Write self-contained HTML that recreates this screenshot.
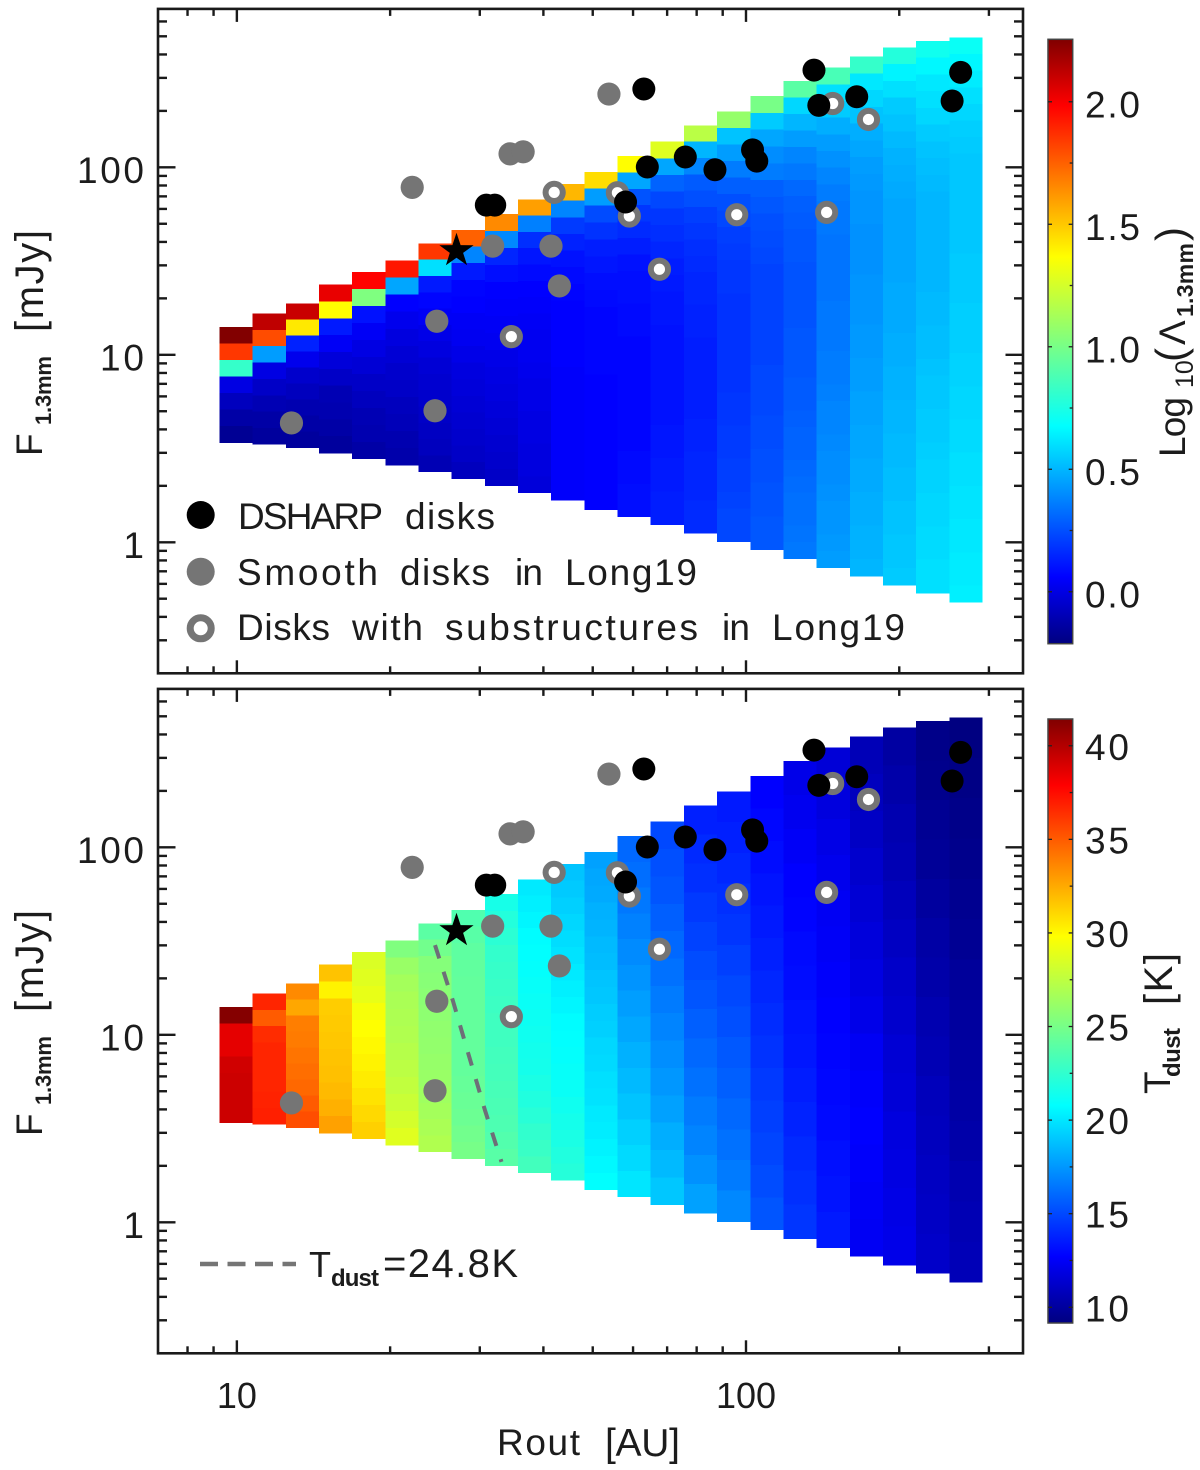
<!DOCTYPE html>
<html lang="en">
<head>
<meta charset="utf-8">
<title>Disk flux versus outer radius</title>
<style>
html,body{margin:0;padding:0;background:#fff;}
svg{display:block;}
text{font-family:"Liberation Sans",sans-serif;fill:#1c1c1c;}
.big{font-size:37px;}
.sub{font-size:22px;font-weight:bold;}
</style>
</head>
<body>
<svg id="chart" xmlns="http://www.w3.org/2000/svg" width="1200" height="1470" viewBox="0 0 1200 1470">
  <defs>
    <linearGradient id="jetGrad" x1="0" y1="1" x2="0" y2="0">
      <stop offset="0" stop-color="#000080"/>
      <stop offset="0.11" stop-color="#0000ff"/>
      <stop offset="0.36" stop-color="#00ffff"/>
      <stop offset="0.64" stop-color="#ffff00"/>
      <stop offset="0.89" stop-color="#ff0000"/>
      <stop offset="1" stop-color="#800000"/>
    </linearGradient>
  </defs>
  <rect x="0" y="0" width="1200" height="1470" fill="#fff"/>
  <g id="heatTop" shape-rendering="crispEdges"></g>
  <g id="heatBottom" shape-rendering="crispEdges"></g>
  <path id="contour" fill="none" stroke="#6e6e78" stroke-width="4" stroke-dasharray="14 14"/>
  <g id="pointsTop"></g>
  <g id="pointsBottom"></g>
  <g id="axes"></g>

  <!-- axis titles -->
  <g>
    <text class="big" transform="translate(42,456) rotate(-90)" textLength="24">F</text>
    <text class="sub" transform="translate(51,425) rotate(-90)" textLength="69">1.3mm</text>
    <text class="big" style="font-size:40px" transform="translate(43,332) rotate(-90)" textLength="102">[mJy]</text>
  </g>
  <g>
    <text class="big" transform="translate(42,1136) rotate(-90)" textLength="24">F</text>
    <text class="sub" transform="translate(51,1105) rotate(-90)" textLength="69">1.3mm</text>
    <text class="big" style="font-size:40px" transform="translate(43,1012) rotate(-90)" textLength="102">[mJy]</text>
  </g>
  <g>
    <text class="big" x="497" y="1455" textLength="83">Rout</text>
    <text class="big" style="font-size:39px" x="605" y="1456" textLength="75">[AU]</text>
  </g>

  <!-- legend top panel -->
  <g>
    <circle cx="200.7" cy="515" r="14" fill="#000"/>
    <circle cx="200.7" cy="571.7" r="14" fill="#757575"/>
    <circle cx="200.7" cy="628.3" r="10.5" fill="#fff" stroke="#757575" stroke-width="7"/>
    <g>
      <text class="big" x="238" y="529" textLength="145">DSHARP</text>
      <text class="big" x="405" y="529" textLength="90">disks</text>
    </g>
    <g>
      <text class="big" x="237" y="585" textLength="141">Smooth</text>
      <text class="big" x="400" y="585" textLength="90">disks</text>
      <text class="big" x="515" y="585" textLength="28">in</text>
      <text class="big" x="565" y="585" textLength="132">Long19</text>
    </g>
    <g>
      <text class="big" x="237" y="640" textLength="93">Disks</text>
      <text class="big" x="352" y="640" textLength="71">with</text>
      <text class="big" x="445" y="640" textLength="253">substructures</text>
      <text class="big" x="722" y="640" textLength="28">in</text>
      <text class="big" x="772" y="640" textLength="133">Long19</text>
    </g>
  </g>

  <!-- legend bottom panel -->
  <g>
    <line x1="200" y1="1264" x2="296" y2="1264" stroke="#757575" stroke-width="4.5" stroke-dasharray="18 9.5"/>
    <text class="big" x="309" y="1277" style="font-size:36px">T</text>
    <text class="sub" style="font-size:24px" x="331" y="1286" textLength="48">dust</text>
    <text class="big" x="383" y="1277" textLength="135" style="font-size:40px">=24.8K</text>
  </g>

  <!-- colorbars -->
  <g>
    <rect x="1048" y="39.3" width="24.7" height="604.4" fill="url(#jetGrad)" stroke="#444" stroke-width="1.5"/>
  </g>
  <g>
    <rect x="1048" y="719" width="24.7" height="604" fill="url(#jetGrad)" stroke="#444" stroke-width="1.5"/>
  </g>
  <g>
    <text class="big" transform="translate(1185,457) rotate(-90)" textLength="60">Log</text>
    <text style="font-size:25px" transform="translate(1193,388) rotate(-90)">10</text>
    <text class="big" style="font-size:42px" transform="translate(1185,362) rotate(-90)">(</text>
    <text class="big" transform="translate(1185,345) rotate(-90)" textLength="22">&#923;</text>
    <text class="sub" style="font-size:23px" transform="translate(1193,317) rotate(-90)" textLength="74">1.3mm</text>
    <text class="big" style="font-size:42px" transform="translate(1185,241) rotate(-90)">)</text>
  </g>
  <g>
    <text class="big" transform="translate(1170,1094) rotate(-90)" textLength="24">T</text>
    <text class="sub" style="font-size:24px" transform="translate(1180,1077) rotate(-90)" textLength="49">dust</text>
    <text class="big" style="font-size:40px" transform="translate(1172,1005) rotate(-90)" textLength="52">[K]</text>
  </g>
  <g id="cbarTicks"></g>
</svg>
<script>
// ---- data ----
const routAU = [9.96,11.57,13.45,15.62,18.15,21.09,24.5,28.47,33.08,38.43,44.66,51.89,60.29,70.05,81.39,94.57,109.9,127.7,148.3,172.4,200.3,232.7,270.4];
const fluxMax = [14.1,16.6,18.8,23.7,27.6,31.8,39.3,46.3,56.3,67.5,81.5,94.7,114.9,137,167.5,199,240,289,340,389,437,472,493];
const fluxMin = [3.40,3.33,3.20,2.99,2.79,2.58,2.38,2.18,2.00,1.84,1.68,1.49,1.37,1.24,1.12,1.01,0.91,0.818,0.732,0.661,0.592,0.535,0.479];

const lambdaGrid = [
[2.25,1.85,.82,0,-.08,-.13,-.17],
[2.12,1.8,.44,0,-.06,-.1,-.13,-.15],
[2.1,1.42,.14,.02,-.05,-.08,-.11,-.13,-.15],
[2.03,1.37,.12,.04,-.02,-.06,-.1,-.11,-.13,-.15],
[1.98,1.02,.1,.04,0,-.03,-.06,-.08,-.1,-.11,-.13],
[1.93,.46,.06,.02,-.01,-.03,-.05,-.06,-.08,-.09,-.11,-.12],
[1.85,.6,.12,.07,.04,.01,-.01,-.03,-.04,-.05,-.06,-.07,-.08,-.1],
[1.75,.38,.12,.07,.06,.04,.03,.01,-.01,-.02,-.03,-.04,-.05,-.06,-.08],
[1.65,.39,.15,.09,.06,.05,.04,.03,.01,0,-.01,-.02,-.03,-.04,-.05,-.06],
[1.6,.37,.17,.11,.08,.06,.05,.04,.03,.03,.02,.01,.01,0,0,-.01,-.01,-.02],
[1.54,.38,.2,.14,.1,.08,.07,.06,.06,.06,.06,.05,.05,.05,.05,.05,.05,.05,.05],
[1.45,.44,.24,.18,.13,.11,.09,.08,.07,.07,.07,.07,.06,.06,.06,.06,.06,.06,.06,.06],
[1.37,.46,.26,.19,.16,.13,.1,.09,.09,.08,.08,.07,.07,.07,.07,.07,.07,.07,.08,.08,.09,.09],
[1.28,.46,.3,.23,.19,.17,.15,.13,.12,.11,.11,.1,.1,.1,.1,.1,.1,.11,.11,.12,.12,.13,.13],
[1.18,.5,.38,.28,.25,.21,.19,.17,.16,.15,.15,.14,.14,.13,.13,.13,.13,.13,.14,.14,.15,.15,.15,.16,.16],
[1.08,.53,.44,.36,.29,.25,.23,.21,.2,.19,.19,.18,.18,.18,.18,.18,.18,.19,.19,.2,.2,.21,.21,.22,.23,.23],
[1,.55,.46,.4,.36,.29,.27,.25,.24,.23,.22,.22,.22,.22,.22,.22,.23,.23,.23,.24,.24,.25,.25,.26,.26,.27,.27],
[.92,.58,.5,.44,.38,.35,.31,.29,.28,.27,.27,.26,.26,.26,.26,.27,.27,.27,.28,.28,.29,.3,.3,.31,.32,.33,.33,.34,.35],
[.87,.6,.55,.48,.44,.41,.38,.36,.35,.35,.34,.34,.34,.34,.35,.35,.35,.36,.36,.37,.38,.38,.39,.4,.4,.41,.42,.42,.43,.44],
[.82,.62,.58,.53,.48,.46,.44,.43,.42,.42,.41,.41,.41,.42,.42,.42,.43,.43,.44,.44,.45,.45,.46,.46,.47,.47,.48,.48,.49,.49,.5],
[.77,.65,.6,.55,.53,.51,.49,.48,.47,.46,.46,.46,.46,.46,.47,.47,.47,.48,.48,.49,.49,.5,.5,.51,.51,.52,.52,.53,.53,.54,.54,.55],
[.72,.66,.62,.6,.58,.55,.53,.52,.51,.5,.5,.5,.5,.5,.5,.51,.51,.52,.52,.53,.54,.54,.55,.55,.56,.57,.57,.58,.58,.59,.59,.6,.6],
[.7,.66,.63,.6,.58,.56,.55,.54,.54,.54,.54,.54,.54,.55,.55,.55,.56,.56,.56,.57,.57,.58,.58,.59,.59,.6,.6,.61,.61,.62,.62,.63,.63,.64]
];

const tdustGrid = [
[41.3,38.6,38.6,39.2,39.3,39.3,39.3],
[36.7,35,36.5,36.7,36.7,36.7,36.8,36.9],
[33.5,32.6,33.9,34,34.2,34.4,34.6,35,35.4],
[31.7,30.2,31.4,31.5,31.6,31.7,31.8,32,32.3,32.8],
[28.5,28.7,29,29.5,29.8,30,30.2,30.4,30.7,31,31.3],
[25.3,26.2,26.6,26.8,26.9,27,27.2,27.4,27.6,27.9,28.3,28.7],
[24,24.8,25.5,25.6,25.7,25.8,25.9,26,26.1,26.2,26.4,26.6,26.8,27],
[23.6,23.9,24.1,24.2,24.3,24.3,24.3,24.3,24.3,24.3,24.4,24.5,24.6,24.8,25],
[21.6,22,22.3,22.6,22.7,22.8,22.9,23,23,23.1,23.2,23.3,23.4,23.5,23.7,23.9],
[20.1,20.3,20.5,20.7,20.8,20.9,21,21.1,21.2,21.3,21.4,21.5,21.7,21.9,22.2,22.5,22.8,23.1],
[18.9,19.1,19.3,19.5,19.7,19.9,20.1,20.3,20.5,20.7,20.8,20.9,21,21.1,21.3,21.5,21.7,21.9,22.1],
[17.8,18,18.1,18.3,18.4,18.6,18.7,18.9,19,19.2,19.3,19.5,19.6,19.8,19.9,20.1,20.2,20.4,20.6,20.8],
[16,16.2,16.5,16.8,17.1,17.4,17.7,18,18.3,18.6,18.9,19.3,19.6,20],
[15,15.2,15.4,15.7,16,16.3,16.6,16.9,17.2,17.5,17.8,18.2,18.6,19],
[13.7,14,14.2,14.5,14.8,15.1,15.4,15.7,16,16.3,16.6,16.9,17.3,17.8],
[13.5,13.7,13.9,14.2,14.4,14.7,15,15.2,15.5,15.7,16,16.3,16.6,17],
[12.7,12.9,13.1,13.3,13.5,13.7,13.9,14.1,14.3,14.5,14.7,14.9,15.1,15.4],
[12.1,12.3,12.5,12.7,12.8,13,13.1,13.3,13.4,13.6,13.8,14,14.2,14.4],
[11.6,11.8,12,12.2,12.4,12.5,12.6,12.7,12.8,12.9,13,13.2,13.3,13.5],
[10.7,10.9,11.1,11.3,11.5,11.7,11.9,12.1,12.4,12.6,12.7,12.6,12.5,12.4],
[10.1,10.3,10.5,10.6,10.8,11,11.2,11.3,11.5,11.6,11.8,11.9,12,12.1],
[9.4,9.5,9.7,9.8,10,10.2,10.3,10.5,10.6,10.8,10.9,11,11.1,11.2],
[9.2,9.3,9.4,9.5,9.6,9.7,9.9,10,10.1,10.2,10.3,10.5,10.6,10.7]
];

const dsharpR = [63,136,139,165,264,254,64,76,86.9,103,105,58,30.9,32.1];
const dsharpF = [261.6,330,214,238,321,226,100.4,113.5,97.1,124,108,65.3,62.9,62.9];
const smoothR = [53.8,22.1,34.4,36.5,31.8,41.4,43,24.7,24.5,12.8];
const smoothF = [246,78.2,118,121,38,38,23.3,15.1,5.03,4.33];
const substrR = [42,34.6,55.9,59,67.6,95.9,144,148,174];
const substrF = [73.5,12.5,73.2,55,28.6,55.9,57.5,219,180];
const starR = [27];
const starF = [35.9];
const contourR = [24.5,26.6,28.6,30.7,33.1];
const contourF = [30.1,15,7.64,3.97,2.1];

const xMajorTicks = [10,100];
const xMajorLabels = ['10','100'];
const xMinorTicks = [8,9,20,30,40,50,60,70,80,90,200,300];
const yMajorTicks = [1,10,100];
const yMajorLabels = ['1','10','100'];
const yLabelWidths = [18,44,67];
const yMinorTicks = [.2,.3,.4,.5,.6,.7,.8,.9,2,3,4,5,6,7,8,9,20,30,40,50,60,70,80,90,200,300,400,500,600];
const lambdaTicks = [0,.5,1,1.5,2];
const lambdaLabels = ['0.0','0.5','1.0','1.5','2.0'];
const lambdaMinor = [.25,.75,1.25,1.75];
const tdustTicks = [10,15,20,25,30,35,40];
const tdustLabels = ['10','15','20','25','30','35','40'];
const tdustMinor = [12.5,17.5,22.5,27.5,32.5,37.5];

// ---- scales ----
const NS = 'http://www.w3.org/2000/svg';
const PLOT_L = 158, PLOT_R = 1023, PLOT_H = 664.4;
const PANEL_TOPS = [8.9, 688.9];
const lambdaRange = [-0.212, 2.255];
const tdustRange = [9.16, 41.43];
const lg = Math.log10;
function xScale(r){ return PLOT_L + (lg(r) - lg(7)) / (lg(350) - lg(7)) * (PLOT_R - PLOT_L); }
function yScale(f, top){ return top + (lg(700) - lg(f)) / (lg(700) - lg(0.2)) * PLOT_H; }
function lambdaCbarY(v){ return 643.7 - (v - lambdaRange[0]) / (lambdaRange[1] - lambdaRange[0]) * 604.4; }
function tdustCbarY(v){ return 1323 - (v - tdustRange[0]) / (tdustRange[1] - tdustRange[0]) * 604; }
function jet(t){
  t = Math.max(0, Math.min(1, t));
  let r, g, b;
  if (t < .11) { r = 0; g = 0; b = 128 + 127 * t / .11; }
  else if (t < .36) { r = 0; g = 255 * (t - .11) / .25; b = 255; }
  else if (t < .64) { r = 255 * (t - .36) / .28; g = 255; b = 255 * (1 - (t - .36) / .28); }
  else if (t < .89) { r = 255; g = 255 * (1 - (t - .64) / .25); b = 0; }
  else { r = 255 - 127 * (t - .89) / .11; g = 0; b = 0; }
  return 'rgb(' + Math.round(r) + ',' + Math.round(g) + ',' + Math.round(b) + ')';
}
function make(tag, parent, attrs){
  const el = document.createElementNS(NS, tag);
  for (const k in attrs) el.setAttribute(k, attrs[k]);
  parent.appendChild(el);
  return el;
}
function columnEdges(i){
  const c = lg(routAU[i]);
  const left = i > 0 ? (c + lg(routAU[i - 1])) / 2 : c - (lg(routAU[1]) - c) / 2;
  const right = i < routAU.length - 1 ? (c + lg(routAU[i + 1])) / 2 : c + (c - lg(routAU[i - 1])) / 2;
  return [xScale(Math.pow(10, left)), xScale(Math.pow(10, right))];
}

// ---- heatmaps ----
function drawHeat(group, grid, range, top){
  routAU.forEach(function(r, i){
    const e = columnEdges(i);
    const y0 = yScale(fluxMax[i], top);
    const y1 = yScale(fluxMin[i], top);
    const vals = grid[i];
    const h = (y1 - y0) / vals.length;
    vals.forEach(function(v, j){
      const cell = make('rect', group, {
        x: e[0].toFixed(2), y: (y0 + j * h).toFixed(2),
        width: (e[1] - e[0]).toFixed(2), height: (h + 0.3).toFixed(2),
        fill: jet((v - range[0]) / (range[1] - range[0]))
      });
      
      
    });
  });
}
drawHeat(document.getElementById('heatTop'), lambdaGrid, lambdaRange, PANEL_TOPS[0]);
drawHeat(document.getElementById('heatBottom'), tdustGrid, tdustRange, PANEL_TOPS[1]);

// ---- contour ----
document.getElementById('contour').setAttribute('d', contourR.map(function(r, i){
  return (i ? 'L' : 'M') + xScale(r).toFixed(1) + ' ' + yScale(contourF[i], PANEL_TOPS[1]).toFixed(1);
}).join(' '));

// ---- points ----
function drawPoints(group, top){
  substrR.forEach(function(r, i){
    const ring = make('circle', group, {cx: xScale(r), cy: yScale(substrF[i], top), r: 8.6, fill: '#fff', stroke: '#757575', 'stroke-width': 6});
    
    
  });
  smoothR.forEach(function(r, i){
    const dot = make('circle', group, {cx: xScale(r), cy: yScale(smoothF[i], top), r: 11.6, fill: '#757575'});
    
    
  });
  dsharpR.forEach(function(r, i){
    const dot = make('circle', group, {cx: xScale(r), cy: yScale(dsharpF[i], top), r: 11.5, fill: '#000'});
    
    
  });
  starR.forEach(function(r, i){
    const cx = xScale(r), cy = yScale(starF[i], top);
    const pts = [];
    for (let k = 0; k < 10; k++) {
      const rad = k % 2 ? 7 : 18;
      const a = -Math.PI / 2 + k * Math.PI / 5;
      pts.push((cx + rad * Math.cos(a)).toFixed(1) + ',' + (cy + rad * Math.sin(a)).toFixed(1));
    }
    const star = make('polygon', group, {points: pts.join(' '), fill: '#000'});
    
    
  });
}
drawPoints(document.getElementById('pointsTop'), PANEL_TOPS[0]);
drawPoints(document.getElementById('pointsBottom'), PANEL_TOPS[1]);

// ---- axes ----
const axes = document.getElementById('axes');
function tickLine(x1, y1, x2, y2){
  const t = make('line', axes, {x1: x1, y1: y1, x2: x2, y2: y2, stroke: '#1a1a1a', 'stroke-width': 2.4});
  
  
}
PANEL_TOPS.forEach(function(top){
  const bottom = top + PLOT_H;
  const frame = make('rect', axes, {x: PLOT_L, y: top, width: PLOT_R - PLOT_L, height: PLOT_H, fill: 'none', stroke: '#1a1a1a', 'stroke-width': 2.6});
  
  
  xMajorTicks.forEach(function(v){ const x = xScale(v); tickLine(x, bottom, x, bottom - 13); tickLine(x, top, x, top + 13); });
  xMinorTicks.forEach(function(v){ const x = xScale(v); tickLine(x, bottom, x, bottom - 7); tickLine(x, top, x, top + 7); });
  yMajorTicks.forEach(function(v, i){
    const y = yScale(v, top);
    tickLine(PLOT_L, y, PLOT_L + 17.5, y);
    tickLine(PLOT_R, y, PLOT_R - 17.5, y);
    const lab = make('text', axes, {x: 144, y: y + 15.7, 'text-anchor': 'end', 'class': 'big', textLength: yLabelWidths[i]});
    lab.textContent = yMajorLabels[i];
    
    
  });
  yMinorTicks.forEach(function(v){
    const y = yScale(v, top);
    tickLine(PLOT_L, y, PLOT_L + 9, y);
    tickLine(PLOT_R, y, PLOT_R - 9, y);
  });
});
xMajorTicks.forEach(function(v, i){
  const lab = make('text', axes, {x: xScale(v), y: 1408, 'text-anchor': 'middle', 'class': 'big'});
  lab.style.fontSize = '36px';
  lab.textContent = xMajorLabels[i];
  
  
});

// ---- colorbar ticks ----
const cbarGroup = document.getElementById('cbarTicks');
function cbarTick(y, len, both){
  const a = make('line', cbarGroup, {x1: 1072.7, y1: y, x2: 1072.7 - len, y2: y, stroke: '#222', 'stroke-width': 1.3});
  
  
  if (both) {
    const b = make('line', cbarGroup, {x1: 1048, y1: y, x2: 1048 + len, y2: y, stroke: '#222', 'stroke-width': 1.3});
    
    
  }
}
function cbarLabel(txt, y, width){
  const t = make('text', cbarGroup, {x: 1085, y: y, 'class': 'big', textLength: width});
  t.textContent = txt;
  
  
}
lambdaTicks.forEach(function(v, i){ const y = lambdaCbarY(v); cbarTick(y, 4, true); cbarLabel(lambdaLabels[i], y + 15.5, 55); });
lambdaMinor.forEach(function(v){ cbarTick(lambdaCbarY(v), 3, false); });
tdustTicks.forEach(function(v, i){ const y = tdustCbarY(v); cbarTick(y, 4, true); cbarLabel(tdustLabels[i], y + 14, 44); });
tdustMinor.forEach(function(v){ cbarTick(tdustCbarY(v), 3, false); });
</script>
</body>
</html>
